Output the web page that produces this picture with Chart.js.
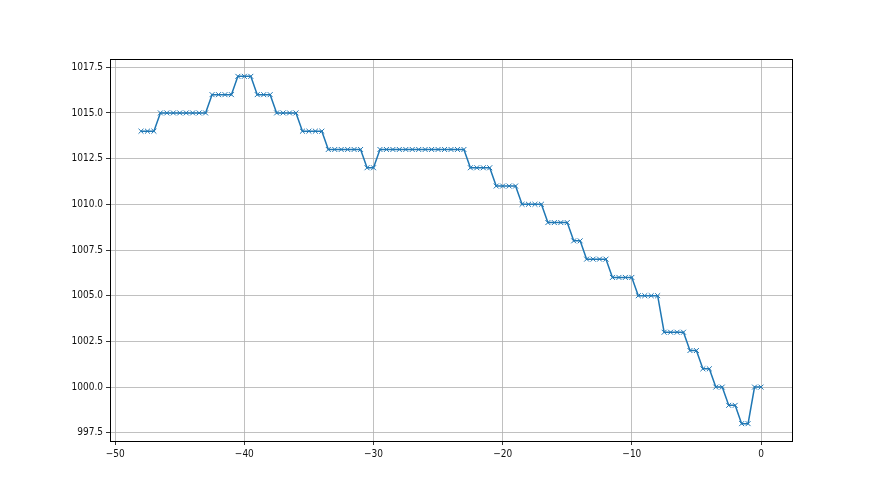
<!DOCTYPE html>
<html>
<head>
<meta charset="utf-8">
<script src="https://cdn.jsdelivr.net/npm/chart.js@4/dist/chart.umd.min.js"></script>
<style>
  html, body { margin: 0; padding: 0; background: #fff; }
  #wrap { width: 880px; height: 495px; }
</style>
</head>
<body>
<div id="wrap"><canvas id="c" width="880" height="495"></canvas></div>
<script>
// hours relative to now
const hours = [
  -48, -47.5, -47, -46.5, -46, -45.5, -45, -44.5, -44, -43.5, -43, -42.5,
  -42, -41.5, -41, -40.5, -40, -39.5, -39, -38.5, -38, -37.5, -37, -36.5,
  -36, -35.5, -35, -34.5, -34, -33.5, -33, -32.5, -32, -31.5, -31, -30.5,
  -30, -29.5, -29, -28.5, -28, -27.5, -27, -26.5, -26, -25.5, -25, -24.5,
  -24, -23.5, -23, -22.5, -22, -21.5, -21, -20.5, -20, -19.5, -19, -18.5,
  -18, -17.5, -17, -16.5, -16, -15.5, -15, -14.5, -14, -13.5, -13, -12.5,
  -12, -11.5, -11, -10.5, -10, -9.5, -9, -8.5, -8, -7.5, -7, -6.5,
  -6, -5.5, -5, -4.5, -4, -3.5, -3, -2.5, -2, -1.5, -1, -0.5, 0
];
// pressure readings
const pressure = [
  1014, 1014, 1014, 1015, 1015, 1015, 1015, 1015, 1015, 1015, 1015, 1016,
  1016, 1016, 1016, 1017, 1017, 1017, 1016, 1016, 1016, 1015, 1015, 1015,
  1015, 1014, 1014, 1014, 1014, 1013, 1013, 1013, 1013, 1013, 1013, 1012,
  1012, 1013, 1013, 1013, 1013, 1013, 1013, 1013, 1013, 1013, 1013, 1013,
  1013, 1013, 1013, 1012, 1012, 1012, 1012, 1011, 1011, 1011, 1011, 1010,
  1010, 1010, 1010, 1009, 1009, 1009, 1009, 1008, 1008, 1007, 1007, 1007,
  1007, 1006, 1006, 1006, 1006, 1005, 1005, 1005, 1005, 1003, 1003, 1003,
  1003, 1002, 1002, 1001, 1001, 1000, 1000, 999, 999, 998, 998, 1000, 1000
];
const xTicks = [-50, -40, -30, -20, -10, 0];
const yTicks = [997.5, 1000, 1002.5, 1005, 1007.5, 1010, 1012.5, 1015, 1017.5];

const blue = '#1f77b4';
const gridColor = '#b0b0b0';
const tickFont = { family: "'Liberation Sans Narrow', 'DejaVu Sans Condensed', sans-serif", size: 10 };

const frame = {
  id: 'frame',
  afterDraw(chart) {
    const a = chart.chartArea, ctx = chart.ctx;
    ctx.save();
    ctx.strokeStyle = '#000';
    ctx.lineWidth = 1;
    ctx.strokeRect(Math.round(a.left) + 0.5, Math.round(a.top) + 0.5,
      Math.round(a.right - a.left), Math.round(a.bottom - a.top));
    ctx.restore();
  }
};

new Chart(document.getElementById('c'), {
  type: 'scatter',
  data: {
    datasets: [{
      data: hours.map((h, i) => ({ x: h, y: pressure[i] })),
      showLine: true,
      borderColor: blue,
      borderWidth: 1.5,
      pointStyle: 'crossRot',
      pointRadius: 3.5,
      pointHoverRadius: 3.5,
      pointBorderColor: blue,
      pointBorderWidth: 1,
      pointBackgroundColor: blue
    }]
  },
  options: {
    responsive: false,
    animation: false,
    events: [],
    layout: { padding: { left: 50, right: 88, top: 59, bottom: 24 } },
    plugins: { legend: { display: false }, tooltip: { enabled: false } },
    scales: {
      x: {
        type: 'linear',
        min: -50.4,
        max: 2.4,
        afterBuildTicks: s => { s.ticks = xTicks.map(v => ({ value: v })); },
        afterFit: s => { s.height = 30; },
        border: { display: false },
        grid: { color: gridColor, lineWidth: 0.8, tickColor: '#000', tickLength: 4 },
        ticks: {
          color: '#111',
          font: tickFont,
          padding: 3,
          maxRotation: 0,
          callback: v => String(v).replace('-', '\u2212')
        }
      },
      y: {
        min: 997.05,
        max: 1017.95,
        afterBuildTicks: s => { s.ticks = yTicks.map(v => ({ value: v })); },
        afterFit: s => { s.width = 60; },
        border: { display: false },
        grid: { color: gridColor, lineWidth: 0.8, tickColor: '#000', tickLength: 4 },
        ticks: {
          color: '#111',
          font: tickFont,
          padding: 3,
          callback: v => v.toFixed(1)
        }
      }
    }
  },
  plugins: [frame]
});
</script>
</body>
</html>
